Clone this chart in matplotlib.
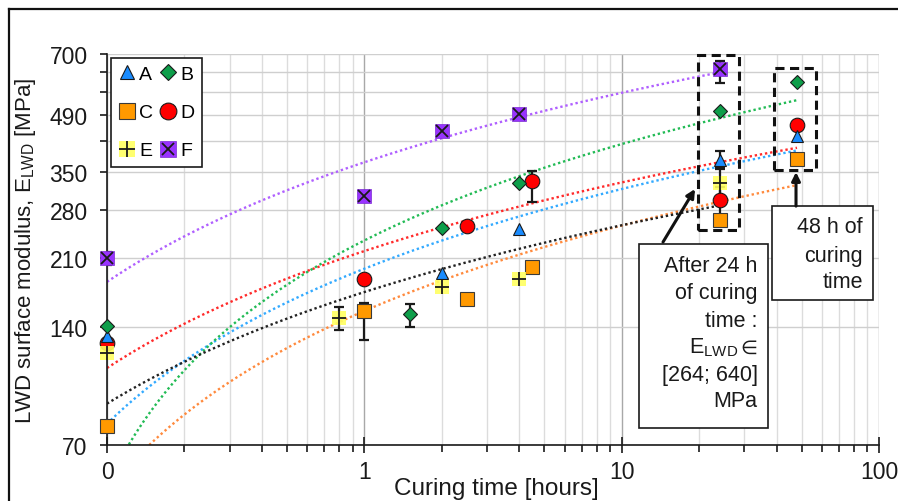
import numpy as np
import matplotlib
matplotlib.use("Agg")
import matplotlib.pyplot as plt
from matplotlib.patches import Rectangle
from matplotlib.lines import Line2D
from matplotlib.ticker import FixedLocator, FixedFormatter, NullFormatter, NullLocator, LogLocator

plt.rcParams['font.family'] = ['Liberation Sans', 'DejaVu Sans']
plt.rcParams['mathtext.fontset'] = 'custom'
plt.rcParams['mathtext.rm'] = 'Liberation Sans'
plt.rcParams['mathtext.it'] = 'Liberation Sans:italic'
plt.rcParams['mathtext.bf'] = 'Liberation Sans:bold'

# Curing time [h] (0 = right after compaction, drawn at 0.1 h on the log axis)
# and LWD surface modulus [MPa] for mixtures A-F
time_A = [0, 1, 2, 4, 24, 48]
E_A = [133, 155, 193, 250, 374, 432]
time_B = [0, 1.5, 2, 4, 24, 48]
E_B = [141, 151, 251, 327, 499, 592]
time_C = [0, 1, 2.5, 4.5, 24, 48]
E_C = [78.5, 154, 165, 200, 264, 377]
time_D = [0, 1, 2.5, 4.5, 24, 48]
E_D = [127.5, 186, 254.5, 332, 296, 460]
time_E = [0, 0.8, 2, 4, 24]
E_E = [120, 148, 178, 186, 328]
time_F = [0, 1, 2, 4, 24]
E_F = [210, 304, 445, 491, 640]

# lower / upper error bar lengths [MPa]
errA_lo = [0, 0, 0, 0, 15, 0]
errA_hi = [0, 0, 0, 0, 22, 0]
errB_lo = [0, 11, 0, 0, 0, 0]
errB_hi = [0, 10, 0, 0, 0, 0]
errC_lo = [0, 24, 0, 0, 0, 0]
errC_hi = [0, 8, 0, 0, 0, 0]
errD_lo = [0, 0, 0, 40, 26, 0]
errD_hi = [0, 0, 0, 20, 24, 0]
errE_lo = [0, 10, 0, 0, 28]
errE_hi = [0, 10, 0, 0, 27]
errF_lo = [8, 0, 0, 0, 51]
errF_hi = [8, 0, 0, 0, 33]

zero_time = 0.1

y_ticks = [70, 140, 210, 280, 350, 420, 490, 560, 630, 700]
y_labels = ['70', '140', '210', '280', '350', '', '490', '', '', '700']
x_ticks = [0.1, 1, 10, 100]
x_labels = ['0', '1', '10', '100']

# drawing order: later entries sit on top
series = [
    ('D', time_D, E_D, errD_lo, errD_hi, '#ff2a2a',
     [dict(marker='o', ms=10.5, mfc='#ff0000', mec='#1a1a1a', mew=0.8)]),
    ('A', time_A, E_A, errA_lo, errA_hi, '#33aaff',
     [dict(marker='^', ms=9, mfc='#1a8cff', mec='#1a1a1a', mew=0.8)]),
    ('B', time_B, E_B, errB_lo, errB_hi, '#22bb55',
     [dict(marker='D', ms=7, mfc='#0e9e4a', mec='#1a1a1a', mew=0.8)]),
    ('C', time_C, E_C, errC_lo, errC_hi, '#ff8a3d',
     [dict(marker='s', ms=10, mfc='#ff9900', mec='#3a3a3a', mew=0.8)]),
    ('E', time_E, E_E, errE_lo, errE_hi, '#222222',
     [dict(marker='s', ms=10.5, mfc='#ffff60', mec='none', mew=0, alpha=0.9),
      dict(marker='+', ms=10, mfc='none', mec='#1a1a1a', mew=1.3)]),
    ('F', time_F, E_F, errF_lo, errF_hi, '#b060ff',
     [dict(marker='s', ms=9.5, mfc='#9933ff', mec='#7a2ad0', mew=0.5),
      dict(marker='x', ms=8, mfc='none', mec='#1a1a1a', mew=1.3)]),
]

fig = plt.figure(figsize=(8.98, 5.02), dpi=100)
ax = fig.add_axes([107 / 898, 56 / 502, 772 / 898, 391 / 502])
ax.set_xscale('log')
ax.set_yscale('log')
ax.set_xlim(0.1, 100)
ax.set_ylim(70, 700)

handles = {}
for k, (name, t, e, lo, hi, tcolor, mstyles) in enumerate(series):
    t = np.asarray(t, float)
    e = np.asarray(e, float)
    x = np.where(t == 0, zero_time, t)
    # logarithmic trend line y = a ln(x) + b
    a, b = np.polyfit(np.log(x), e, 1)
    xx = np.logspace(np.log10(zero_time), np.log10(x.max()), 300)
    yy = a * np.log(xx) + b
    yy = np.where(yy > 0, yy, np.nan)
    ax.plot(xx, yy, ls=(0, (1, 1.2)), lw=1.7, color=tcolor, zorder=2)

    lo = np.asarray(lo, float)
    hi = np.asarray(hi, float)
    m = (lo + hi) > 0
    if m.any():
        ax.errorbar(x[m], e[m], yerr=[lo[m], hi[m]], fmt='none', ecolor='#1a1a1a',
                    elinewidth=1.6, capsize=3.5, capthick=1.6, zorder=3)
    parts = []
    for j, st in enumerate(mstyles):
        ax.plot(x, e, ls='none', zorder=4 + k * 0.1 + j * 0.01, clip_on=False, **st)
        lst = dict(st)
        lst['ms'] = st['ms'] * 1.15
        parts.append(Line2D([], [], ls='none', **lst))
    handles[name] = tuple(parts) if len(parts) > 1 else parts[0]

# axes, ticks and grid
ax.xaxis.set_major_locator(FixedLocator(x_ticks))
ax.xaxis.set_major_formatter(FixedFormatter(x_labels))
ax.xaxis.set_minor_locator(LogLocator(base=10, subs=np.arange(2, 10)))
ax.xaxis.set_minor_formatter(NullFormatter())
ax.yaxis.set_major_locator(FixedLocator(y_ticks))
ax.yaxis.set_major_formatter(FixedFormatter(y_labels))
ax.yaxis.set_minor_locator(NullLocator())

ax.grid(which='major', axis='y', color='#cfcfcf', lw=1.0, zorder=0)
ax.grid(which='minor', axis='x', color='#dcdcdc', lw=1.0, zorder=0)
ax.grid(which='major', axis='x', color='#a8a8a8', lw=1.0, zorder=0)
ax.set_axisbelow(True)

for s in ('top', 'right'):
    ax.spines[s].set_visible(False)
for s in ('left', 'bottom'):
    ax.spines[s].set_color('#1a1a1a')
    ax.spines[s].set_linewidth(1.2)

ax.tick_params(axis='x', which='major', direction='inout', length=11, width=1.2,
               pad=5, labelsize=16.5, colors='#1a1a1a')
ax.tick_params(axis='x', which='minor', direction='out', length=5, width=1.2,
               colors='#1a1a1a')
ax.tick_params(axis='y', which='major', direction='out', length=5, width=1.2,
               pad=9, labelsize=16.5, colors='#1a1a1a')

ax.set_xlabel('Curing time [hours]', fontsize=17.5, color='#1a1a1a')
ax.xaxis.set_label_coords(0.505, -0.082)
ax.set_ylabel(r'LWD surface modulus, E$_{\mathregular{LWD}}$ [MPa]', fontsize=16,
              color='#1a1a1a')
ax.yaxis.set_label_coords(-0.09, 0.5)

# legend (rows A B / C D / E F)
order = ['A', 'C', 'E', 'B', 'D', 'F']
leg = ax.legend([handles[n] for n in order], order, ncol=2, loc='upper left',
                bbox_to_anchor=(0.0052, 0.99), borderaxespad=0, fontsize=14,
                frameon=True, fancybox=False, framealpha=1, edgecolor='#1a1a1a',
                handlelength=0.8, handletextpad=0.25, columnspacing=0.35,
                labelspacing=1.05, borderpad=0.4)
leg.get_frame().set_linewidth(1.2)
leg.set_zorder(10)

# dashed frames around the 24 h and 48 h results
for (x0, x1, y0, y1) in [(0.765, 0.8187, 0.5506, 0.998), (0.864, 0.918, 0.703, 0.963)]:
    ax.add_patch(Rectangle((x0, y0), x1 - x0, y1 - y0, transform=ax.transAxes,
                           fill=False, ec='#111111', lw=2.2, ls=(0, (3, 1.8)),
                           zorder=6, clip_on=False))

# note boxes
ax.add_patch(Rectangle((0.689, 0.0435), 0.856 - 0.689, 0.514 - 0.0435,
                       transform=ax.transAxes, fc='white', ec='#1a1a1a', lw=1.2, zorder=7))
ax.add_patch(Rectangle((0.861, 0.371), 0.992 - 0.861, 0.611 - 0.371,
                       transform=ax.transAxes, fc='white', ec='#1a1a1a', lw=1.2, zorder=7,
                       clip_on=False))

e24 = [e[list(t).index(24)] for (_, t, e, *_r) in series if 24 in t]
lines_24 = ['After 24 h', 'of curing', 'time :', None,
            f'[{min(e24):.0f}; {max(e24):.0f}]', 'MPa']
base_24 = [0.4458, 0.3760, 0.3056, 0.2366, 0.1675, 0.0997]
x_24 = 0.8429
for txt, yb in zip(lines_24, base_24):
    if txt is None:
        # element sign from DejaVu Sans, the modulus symbol to its left
        ax.annotate('∈', xy=(x_24, yb), xycoords='axes fraction', ha='right',
                    va='baseline', fontsize=14, family='DejaVu Sans',
                    color='#1a1a1a', zorder=8)
        ax.annotate(r'E$_{\mathregular{LWD}}$', xy=(x_24, yb), xycoords='axes fraction',
                    xytext=(-14, 0), textcoords='offset points', ha='right',
                    va='baseline', fontsize=15.5, color='#1a1a1a', zorder=8)
        continue
    ax.text(x_24, yb, txt, transform=ax.transAxes, ha='right', va='baseline',
            fontsize=15.5, color='#1a1a1a', zorder=8)

lines_48 = ['48 h of', 'curing', 'time']
base_48 = [0.544, 0.4714, 0.4033]
for txt, yb in zip(lines_48, base_48):
    ax.text(0.9789, yb, txt, transform=ax.transAxes, ha='right', va='baseline',
            fontsize=15.5, color='#1a1a1a', zorder=8)

# arrows from the notes to the frames
for tail, tip in [((0.7202, 0.519), (0.7617, 0.6547)), ((0.8925, 0.611), (0.8925, 0.698))]:
    ax.annotate('', xy=tip, xytext=tail, xycoords='axes fraction',
                arrowprops=dict(arrowstyle='-|>,head_length=0.5,head_width=0.25',
                                color='#111111', lw=2.2, shrinkA=0, shrinkB=0),
                zorder=8)

# outer frame of the figure
fig.add_artist(Line2D([8.5 / 898, 8.5 / 898], [0, 492 / 502], color='#111111',
                      lw=1.6, transform=fig.transFigure))
fig.add_artist(Line2D([8.5 / 898, 1], [492 / 502, 492 / 502], color='#111111',
                      lw=1.6, transform=fig.transFigure))

fig.savefig('out.png', dpi=100, facecolor='white')
